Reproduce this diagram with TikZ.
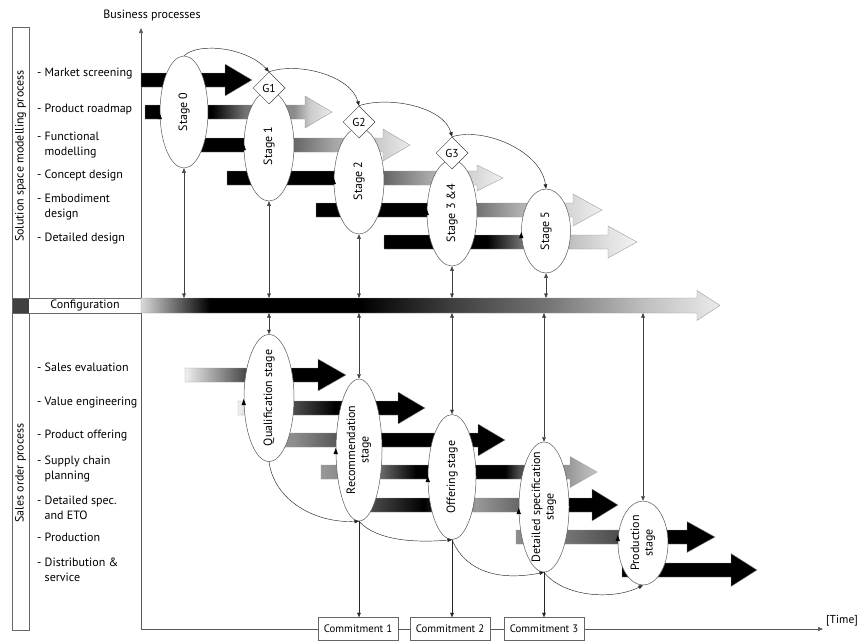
\documentclass[tikz,border=0pt]{standalone}
\usepackage{fontspec}
\setmainfont{PT Sans}
\usetikzlibrary{shapes.geometric,arrows.meta}

% shadings: picture x maps to 25bp + x/20 bp
\pgfdeclarehorizontalshading{allblack}{100bp}{color(0bp)=(black); color(100bp)=(black)}
\pgfdeclarehorizontalshading{shcfg}{100bp}{color(0bp)=(black!15); color(32.05bp)=(black!15); color(35.5bp)=(black); color(43bp)=(black); color(47.65bp)=(black!75); color(52.25bp)=(black!55); color(57.25bp)=(black!25); color(61bp)=(black!8); color(100bp)=(black!8)}
\pgfdeclarehorizontalshading{shtb}{100bp}{color(0bp)=(black); color(35.6bp)=(black); color(37.25bp)=(black!55); color(39.7bp)=(black!45); color(40.5bp)=(black!20); color(41.6bp)=(black!8); color(100bp)=(black!8)}
\pgfdeclarehorizontalshading{shtc}{100bp}{color(0bp)=(black); color(37.5bp)=(black); color(39.7bp)=(black!60); color(41.7bp)=(black!35); color(44.2bp)=(black!18); color(45.5bp)=(black!8); color(100bp)=(black!8)}
\pgfdeclarehorizontalshading{shtd}{100bp}{color(0bp)=(black); color(41.7bp)=(black); color(44.2bp)=(black!60); color(46.35bp)=(black!35); color(48.85bp)=(black!15); color(50.15bp)=(black!6); color(100bp)=(black!6)}
\pgfdeclarehorizontalshading{shte}{100bp}{color(0bp)=(black); color(46.35bp)=(black); color(48.85bp)=(black!55); color(51.1bp)=(black!30); color(53.65bp)=(black!15); color(55.1bp)=(black!6); color(100bp)=(black!6)}
\pgfdeclarehorizontalshading{shtf}{100bp}{color(0bp)=(black); color(49.35bp)=(black); color(51.1bp)=(black!55); color(53.55bp)=(black!25); color(55.4bp)=(black!12); color(56.85bp)=(black!5); color(100bp)=(black!5)}
\pgfdeclarehorizontalshading{shba}{100bp}{color(0bp)=(black!6); color(34.25bp)=(black!6); color(37.2bp)=(black!70); color(39.7bp)=(black); color(100bp)=(black)}
\pgfdeclarehorizontalshading{shbb}{100bp}{color(0bp)=(black!5); color(36.9bp)=(black!5); color(39.7bp)=(black!70); color(41.75bp)=(black); color(100bp)=(black)}
\pgfdeclarehorizontalshading{shbc}{100bp}{color(0bp)=(black!40); color(38.5bp)=(black!40); color(39.7bp)=(black!45); color(41.75bp)=(black!65); color(44.1bp)=(black); color(100bp)=(black)}
\pgfdeclarehorizontalshading{shbd}{100bp}{color(0bp)=(black!40); color(41.05bp)=(black!40); color(41.85bp)=(black!45); color(44.1bp)=(black!60); color(45.8bp)=(black); color(50.25bp)=(black); color(50.95bp)=(black!70); color(53.45bp)=(black!40); color(54.85bp)=(black!22); color(100bp)=(black!22)}
\pgfdeclarehorizontalshading{shbe}{100bp}{color(0bp)=(black!70); color(43.5bp)=(black!70); color(46.2bp)=(black); color(48.8bp)=(black!40); color(50.95bp)=(black!60); color(53.45bp)=(black); color(100bp)=(black)}
\pgfdeclarehorizontalshading{shbf}{100bp}{color(0bp)=(black!45); color(50.8bp)=(black!45); color(53.45bp)=(black!55); color(55.9bp)=(black!70); color(58.4bp)=(black); color(100bp)=(black)}

% #1 y, #2 xs, #3 head base, #4 tip, #5 shading, #6 half bar, #7 half head
\newcommand\garrow[7]{%
  \begin{scope}
    \clip (#2,#1-#6) -- (#3,#1-#6) -- (#3,#1-#7) -- (#4,#1) -- (#3,#1+#7) -- (#3,#1+#6) -- (#2,#1+#6) -- cycle;
    \shade[shading=#5] (0,#1-20) rectangle (1000,#1+20);
  \end{scope}
  \draw[arrowline] (#2,#1-#6) -- (#3,#1-#6) -- (#3,#1-#7) -- (#4,#1) -- (#3,#1+#7) -- (#3,#1+#6) -- (#2,#1+#6) -- cycle;
}

\tikzset{
  frame/.style={draw=black!60, line width=0.6pt},
  arrowline/.style={draw=black!40, line width=0.35pt},
  itemlbl/.style={anchor=west, align=left, inner sep=0pt},
  stagebox/.style={ellipse, draw=black!65, line width=0.5pt, fill=white, inner sep=0pt},
  stagetext/.style={rotate=90, align=center, inner sep=0pt, font=\fontsize{12}{13.5}\selectfont},
  gate/.style={diamond, draw=black!75, line width=0.5pt, fill=white, minimum width=32, minimum height=32, inner sep=0pt, font=\fontsize{11.5}{12}\selectfont},
  conn/.style={draw=black!85, line width=0.45pt, -{Triangle[length=4.5pt,width=3.6pt]}},
  dbl/.style={draw=black!75, line width=0.45pt, {Triangle[length=4.5pt,width=3.6pt]}-{Triangle[length=4.5pt,width=3.6pt]}},
  commit/.style={draw=black!60, line width=0.5pt, fill=white, minimum width=80, minimum height=23, inner sep=0pt, font=\fontsize{10.8}{12}\selectfont},
  axisline/.style={draw=black!65, line width=0.6pt, -{Triangle[length=5pt,width=4pt]}},
  looptip/.style={fill=black}
}

\begin{document}
\begin{tikzpicture}[x=1pt,y=-1pt, font=\fontsize{12}{15}\selectfont]
\fill[white] (0,0) rectangle (861,643);
\useasboundingbox (0,0) rectangle (861,643);

% left frames
\draw[frame] (12,27) rectangle (29,298);
\fill[black!75] (12,298) rectangle (29,313);
\draw[frame] (12,298) rectangle (141,313);
\draw[frame] (12,313) rectangle (29,630);
\node[rotate=90] (lblA) at (20.5,156) {Solution space modelling process};
\node[rotate=90] (lblB) at (20.5,473) {Sales order process};
\node (lblC) at (85,305.5) {Configuration};
\node (lblBP) at (152,15) {Business processes};

% item labels
\node[itemlbl] (i1) at (37,74) {- Market screening};
\node[itemlbl] (i2) at (37,109) {- Product roadmap};
\node[itemlbl] (i3) at (37,145.5) {- Functional\\\hphantom{- }modelling};
\node[itemlbl] (i4) at (37,175) {- Concept design};
\node[itemlbl] (i5) at (37,207.5) {- Embodiment\\\hphantom{- }design};
\node[itemlbl] (i6) at (37,239) {- Detailed design};
\node[itemlbl] (j1) at (37,367) {- Sales evaluation};
\node[itemlbl] (j2) at (37,403) {- Value engineering};
\node[itemlbl] (j3) at (37,436) {- Product offering};
\node[itemlbl] (j4) at (37,469) {- Supply chain\\\hphantom{- }planning};
\node[itemlbl] (j5) at (37,507.5) {- Detailed spec.\\\hphantom{- }and ETO};
\node[itemlbl] (j6) at (37,537) {- Production};
\node[itemlbl] (j7) at (37,570) {- Distribution \&\\\hphantom{- }service};

% axes
\coordinate (orig) at (141,629);
\coordinate (ytop) at (141,28);
\coordinate (xend) at (823,629);
\draw[axisline] (orig) -- (ytop);
\draw[axisline] (orig) -- (xend);
\node[anchor=west, inner sep=0pt, font=\fontsize{11.5}{12}\selectfont] (time) at (826,621) {[Time]};

% top process arrows
\garrow{80}{141}{225}{252}{allblack}{7}{16}
\garrow{112}{145}{305}{332}{shtb}{7}{16}
\garrow{145}{200}{383}{410}{shtc}{7}{16}
\garrow{178}{227}{477}{503}{shtd}{7}{13}
\garrow{210}{316}{573}{602}{shte}{7}{16}
\garrow{242}{384}{608}{637}{shtf}{7}{16}

% configuration bar
\garrow{305.5}{141}{697}{720}{shcfg}{7.5}{15}
\coordinate (cfgT) at (0,298);
\coordinate (cfgB) at (0,313);

% bottom process arrows
\garrow{375}{185}{318}{346}{shba}{7}{16}
\garrow{408}{238}{398}{425}{shbb}{7}{16}
\garrow{440}{270}{478}{505}{shbc}{7}{16}
\garrow{472}{321}{570}{597}{shbd}{7}{15.5}
\garrow{505}{370}{592}{618}{shbe}{7}{16}
\garrow{537}{516}{687}{715}{shbf}{7}{15.5}
\garrow{570}{622}{731}{757}{allblack}{7}{16.5}

% top stages
\node[stagebox, minimum width=48, minimum height=112] (S0) at (184,112) {};
\node[stagebox, minimum width=50, minimum height=110] (S1) at (269,146) {};
\node[stagebox, minimum width=50, minimum height=106] (S2) at (359,181) {};
\node[stagebox, minimum width=50, minimum height=106] (S34) at (452,213) {};
\node[stagebox, minimum width=49, minimum height=84] (S5) at (546,231) {};
\node[stagetext] (S0t) at (S0) {Stage 0};
\node[stagetext] (S1t) at (S1) {Stage 1};
\node[stagetext] (S2t) at (S2) {Stage 2};
\node[stagetext] (S34t) at (S34) {Stage 3 \&4};
\node[stagetext] (S5t) at (S5) {Stage 5};
\node[gate] (G1) at (269,88) {G1};
\node[gate] (G2) at (359,122) {G2};
\node[gate] (G3) at (452,153) {G3};

% bottom stages
\node[stagebox, minimum width=50, minimum height=127] (Q) at (269,398) {};
\node[stagebox, minimum width=46, minimum height=142] (R) at (359,450) {};
\node[stagebox, minimum width=48, minimum height=125] (O) at (452,477) {};
\node[stagebox, minimum width=50, minimum height=130] (D) at (544,507) {};
\node[stagebox, minimum width=50, minimum height=84] (P) at (643,543) {};
\node[stagetext] (Qt) at (Q) {Qualification stage};
\node[stagetext] (Rt) at (R) {Recommendation\\stage};
\node[stagetext] (Ot) at (O) {Offering stage};
\node[stagetext] (Dt) at (D) {Detailed specification\\stage};
\node[stagetext] (Pt) at (P) {Production\\stage};

% loop marks on left edges
\foreach \n/\dy in {S0/5,S1/2,S2/1,S34/0,S5/5,Q/5,R/2,O/3,D/5,P/-4}{
  \fill[looptip] ([yshift=-\dy pt]\n.west) ++(-2.2,2) -- ++(4.4,0) -- ++(-2.2,-6) -- cycle;
}

% stage-to-configuration links
\foreach \n in {S0,S1,S2,S34,S5}{
  \draw[dbl] (\n.south) -- (\n.south |- cfgT);
}
\foreach \n in {Q,R,O,D,P}{
  \draw[dbl] (\n.north |- cfgB) -- (\n.north);
}

% gate arcs
\draw[conn] (S0.north) .. controls +(15,-14) and +(-22,-24) .. (G1.north);
\draw[conn] (G1.north) .. controls +(30,-10) and +(-8,-30) .. (G2.north);
\draw[conn] (G2.north) .. controls +(30,-10) and +(-8,-30) .. (G3.north);
\draw[conn] (G3.north) .. controls +(32,-10) and +(-5,-38) .. (S5.north);

% sales stage arcs
\draw[conn] (Q.south) .. controls +(5,38) and +(-45,2) .. (R.south);
\draw[conn] (R.south) .. controls +(18,20) and +(-35,3) .. (O.south);
\draw[conn] (O.south) .. controls +(15,35) and +(-40,8) .. (D.south);
\draw[conn] (D.south) .. controls +(20,25) and +(-30,15) .. (P.south);

% commitments
\node[commit] (C1) at (358,629) {Commitment 1};
\node[commit] (C2) at (450,629) {Commitment 2};
\node[commit] (C3) at (544,629) {Commitment 3};
\draw[conn] (R.south) -- (R.south |- C1.north);
\draw[conn] (O.south) -- (O.south |- C2.north);
\draw[conn] (D.south) -- (D.south |- C3.north);
\end{tikzpicture}
\end{document}
